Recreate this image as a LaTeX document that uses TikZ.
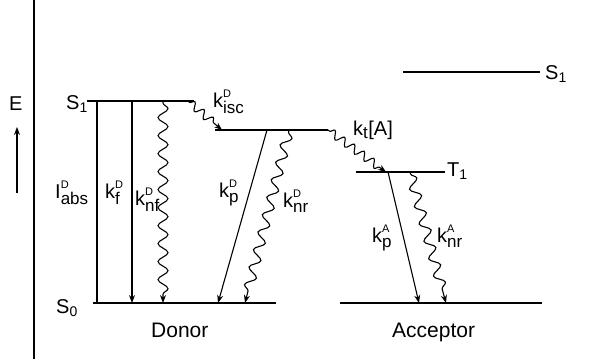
\documentclass[tikz,border=0pt]{standalone}
\usepackage{fontspec}
\setmainfont{Liberation Sans}
\usetikzlibrary{arrows.meta, decorations.pathmorphing}
\newcommand{\rk}[3]{#1\hbox{$^{\raisebox{2pt}{\fontsize{11}{11}\selectfont #2}}_{\hbox{\fontsize{17}{17}\selectfont #3}}$}}

\begin{document}
\begin{tikzpicture}[x=1pt, y=-1pt]
    \tikzset{
      level/.style={line width=1.2pt},
      rad/.style={line width=1.1pt, -{Stealth[length=8pt,width=6pt]}},
      nonrad/.style={line width=1.1pt, -{Stealth[length=8pt,width=6pt]},
        decorate, decoration={snake, amplitude=5pt, segment length=18pt,
        pre length=2pt, post length=6pt}},
      shortwave/.style={decoration={amplitude=4pt, segment length=12pt}},
      lbl/.style={font=\fontsize{20}{22}\selectfont, inner sep=0pt, anchor=base west}
    }
    \useasboundingbox (0,0) rectangle (610,359);

    % energy axis
    \coordinate (axT) at (34,0);
    \coordinate (axB) at (34,359);
    \draw[line width=1.2pt] (axT) -- (axB);
    \node[lbl] (E) at (9,110) {E};
    \coordinate (eB) at (17,193);
    \coordinate (eT) at (17,127);
    \draw[rad] (eB) -- (eT);

    % donor levels
    \coordinate (dS1a) at (87,101);  \coordinate (dS1b) at (194,101);
    \coordinate (dT1a) at (215,130); \coordinate (dT1b) at (328,130);
    \coordinate (dS0a) at (93,303);  \coordinate (dS0b) at (276,303);
    \draw[level] (dS1a) -- (dS1b);
    \draw[level] (dT1a) -- (dT1b);
    \draw[level] (dS0a) -- (dS0b);
    \node[lbl] (lS1) at (66,109) {S\textsubscript{1}};
    \node[lbl] (lS0) at (56,313) {S\textsubscript{0}};
    \node[lbl, font=\fontsize{21}{23}\selectfont] (donor) at (151,337) {Donor};

    % acceptor levels
    \coordinate (aS1a) at (403,72);  \coordinate (aS1b) at (540,72);
    \coordinate (aT1a) at (356,172); \coordinate (aT1b) at (445,172);
    \coordinate (aS0a) at (340,303); \coordinate (aS0b) at (542,303);
    \draw[level] (aS1a) -- (aS1b);
    \draw[level] (aT1a) -- (aT1b);
    \draw[level] (aS0a) -- (aS0b);
    \node[lbl] (laS1) at (545,79) {S\textsubscript{1}};
    \node[lbl] (laT1) at (447,176) {T\textsubscript{1}};
    \node[lbl, font=\fontsize{21}{23}\selectfont] (acceptor) at (392,337) {Acceptor};

    % donor transitions
    \coordinate (iT) at (97,101);  \coordinate (iB) at (97,303);
    \draw[line width=1.1pt] (iT) -- (iB);
    \node[lbl] (lI) at (55,198) {\rk{I}{D}{abs}};
    \coordinate (fT) at (132,101); \coordinate (fB) at (132,303);
    \draw[rad] (fT) -- (fB);
    \node[lbl] (lf) at (105,198) {\rk{k}{D}{f}};
    \coordinate (nfT) at (163,101); \coordinate (nfB) at (163,303);
    \draw[nonrad] (nfT) -- (nfB);
    \node[lbl] (lnf) at (135,205) {\rk{k}{D}{nf}};
    \coordinate (iscT) at (188,101); \coordinate (iscB) at (222,130);
    \draw[nonrad, shortwave] (iscT) -- (iscB);
    \node[lbl] (lisc) at (213,107) {\rk{k}{D}{isc}};
    \coordinate (pdT) at (267,130); \coordinate (pdB) at (218,303);
    \draw[rad] (pdT) -- (pdB);
    \node[lbl] (lpd) at (219,197) {\rk{k}{D}{p}};
    \coordinate (nrdT) at (289,130); \coordinate (nrdB) at (245,303);
    \draw[nonrad] (nrdT) -- (nrdB);
    \node[lbl] (lnrd) at (283,207) {\rk{k}{D}{nr}};

    % transfer
    \coordinate (tT) at (328,130); \coordinate (tB) at (386,172);
    \draw[nonrad, shortwave] (tT) -- (tB);
    \node[lbl] (lt) at (353,135) {k\hbox{$_{\hbox{\fontsize{17}{17}\selectfont t}}$}[A]};

    % acceptor transitions
    \coordinate (paT) at (388,172); \coordinate (paB) at (419,303);
    \draw[rad] (paT) -- (paB);
    \node[lbl] (lpa) at (372,242) {\rk{k}{A}{p}};
    \coordinate (nraT) at (410,172); \coordinate (nraB) at (446,303);
    \draw[nonrad] (nraT) -- (nraB);
    \node[lbl] (lnra) at (437,242) {\rk{k}{A}{nr}};
\end{tikzpicture}
\end{document}
